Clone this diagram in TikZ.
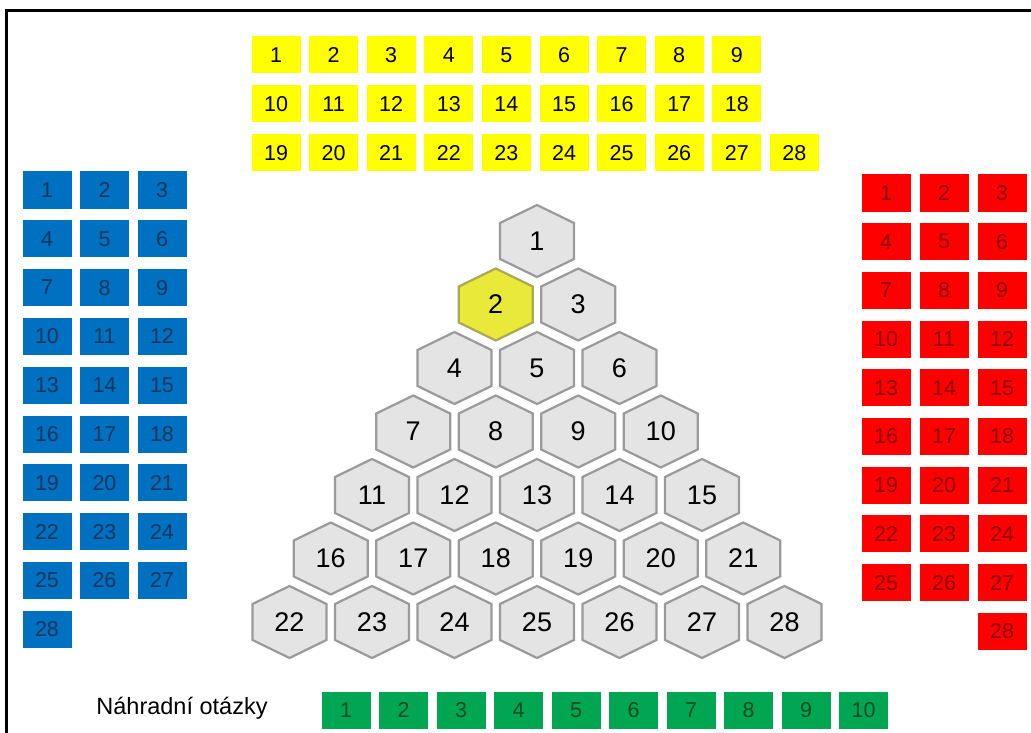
\documentclass[tikz,border=0pt]{standalone}
\usepackage{fontspec}
\setmainfont{Liberation Sans}
\definecolor{myyellow}{HTML}{FFFF00}
\definecolor{myblue}{HTML}{0070C0}
\definecolor{bluetext}{HTML}{17365D}
\definecolor{myred}{HTML}{FF0000}
\definecolor{redtext}{HTML}{8A0000}
\definecolor{mygreen}{HTML}{00A651}
\definecolor{greentext}{HTML}{0B4A22}
\definecolor{hexfill}{HTML}{E4E4E4}
\definecolor{hexgray}{HTML}{9A9A9A}
\definecolor{hexyellowfill}{HTML}{E9E93A}
\definecolor{hexyellowdraw}{HTML}{A9A955}
\begin{document}
\begin{tikzpicture}[x=1pt,y=-1pt,
  sq/.style={minimum width=49pt, minimum height=37pt, inner sep=0pt, font=\fontsize{21.5}{21.5}\selectfont},
  ysq/.style={sq, fill=myyellow, text=black},
  bsq/.style={sq, fill=myblue, text=bluetext},
  rsq/.style={sq, fill=myred, text=redtext},
  gsq/.style={sq, fill=mygreen, text=greentext},
  hexlabel/.style={font=\fontsize{27}{27}\selectfont, inner sep=0pt},
  hexline/.style={line width=2.2pt, line join=miter},
  frameline/.style={line width=3pt}]
\useasboundingbox (0,0) rectangle (1031,733);
\fill[white] (0,0) rectangle (1031,733);
\draw[frameline] (1035,11) -- (6,11) -- (6,740);
% yellow
\foreach \n in {1,...,28} {
  \pgfmathtruncatemacro\r{min(floor((\n-1)/9),2)}
  \pgfmathtruncatemacro\c{\n-1-9*\r}
  \node[ysq] (y\n) at ({276+\c*57.6},{55+\r*49}) {\n};
}
% blue
\foreach \n in {1,...,28} {
  \pgfmathtruncatemacro\r{floor((\n-1)/3)}
  \pgfmathtruncatemacro\c{mod(\n-1,3)}
  \node[bsq] (b\n) at ({47+\c*57.5},{190+\r*48.8}) {\n};
}
% red
\foreach \n in {1,...,27} {
  \pgfmathtruncatemacro\r{floor((\n-1)/3)}
  \pgfmathtruncatemacro\c{mod(\n-1,3)}
  \node[rsq] (r\n) at ({886+\c*58},{193+\r*48.7}) {\n};
}
\node[rsq] (r28) at (1002,631) {28};
% green
\foreach \n in {1,...,10} {
  \node[gsq] (g\n) at ({346+(\n-1)*57.5},710) {\n};
}
\node[font=\fontsize{23.5}{23.5}\selectfont, inner sep=0pt] (lab) at (182,708) {Náhradní otázky};
% hexagons
\foreach \r in {0,...,6} {
  \foreach \i in {0,...,\r} {
    \pgfmathsetmacro\hx{537+(\i-\r/2)*82.5}
    \pgfmathsetmacro\hy{241+\r*63.5}
    \pgfmathtruncatemacro\hn{\r*(\r+1)/2+\i+1}
    \ifnum\hn=2 \def\hf{hexyellowfill}\def\hd{hexyellowdraw}\else\def\hf{hexfill}\def\hd{hexgray}\fi
    \draw[hexline, fill=\hf, draw=\hd] (\hx,\hy) ++(0,-36) -- ++(37,18) -- ++(0,36) -- ++(-37,18) -- ++(-37,-18) -- ++(0,-36) -- cycle;
    \node[hexlabel] (h\hn) at (\hx,\hy) {\hn};
  }
}
\end{tikzpicture}
\end{document}
